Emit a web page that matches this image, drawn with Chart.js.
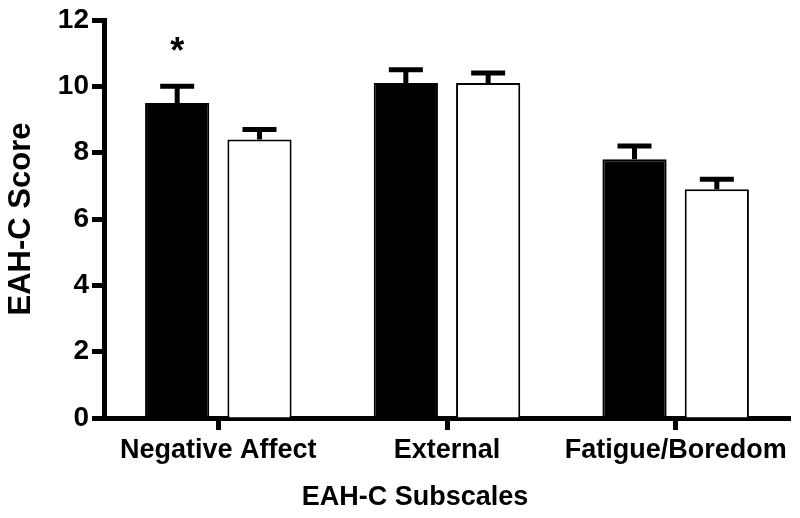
<!DOCTYPE html>
<html>
<head>
<meta charset="utf-8">
<script src="https://cdn.jsdelivr.net/npm/chart.js@4"></script>
<style>
  html, body { margin: 0; padding: 0; background: #fff; }
  #wrap { width: 800px; height: 518px; }
</style>
</head>
<body>
<div id="wrap"><canvas id="eahChart" width="800" height="518"></canvas></div>
<script>
// EAH-C subscale scores, two groups (mean + SE)
const categories = ['Negative Affect', 'External', 'Fatigue/Boredom'];
const groupAMeans = [9.5, 10.1, 7.8];
const groupAErr = [0.5, 0.4, 0.4];
const groupBMeans = [8.4, 10.1, 6.9];
const groupBErr = [0.3, 0.3, 0.3];
const sigMarks = ['*', '', ''];   // drawn above group A bars
const yTicks = [0, 2, 4, 6, 8, 10, 12];
const xTitle = 'EAH-C Subscales';

const FONT = "'Liberation Sans', Arial, Helvetica, sans-serif";
Chart.defaults.font.family = FONT;
Chart.defaults.font.weight = 'bold';
Chart.defaults.color = '#000';

// error bars (upper half only), significance star, x axis title
const errorBarPlugin = {
  id: 'errorBars',
  afterDatasetsDraw(chart) {
    const ctx = chart.ctx;
    const yScale = chart.scales.y;
    const errs = [groupAErr, groupBErr];
    ctx.save();
    ctx.strokeStyle = '#000';
    ctx.lineWidth = 5;
    chart.data.datasets.forEach((ds, di) => {
      const meta = chart.getDatasetMeta(di);
      meta.data.forEach((bar, i) => {
        const top = yScale.getPixelForValue(ds.data[i] + errs[di][i]);
        const half = 17;
        ctx.beginPath();
        ctx.moveTo(bar.x, bar.y);
        ctx.lineTo(bar.x, top);
        ctx.moveTo(bar.x - half, top);
        ctx.lineTo(bar.x + half, top);
        ctx.stroke();
        if (di === 0 && sigMarks[i]) {
          ctx.fillStyle = '#000';
          ctx.font = 'bold 36px ' + FONT;
          ctx.textAlign = 'center';
          ctx.textBaseline = 'alphabetic';
          ctx.fillText(sigMarks[i], bar.x, top - 23);
        }
      });
    });
    ctx.restore();
  },
  afterDraw(chart) {
    const ctx = chart.ctx;
    const area = chart.chartArea;
    ctx.save();
    ctx.fillStyle = '#000';
    ctx.font = 'bold 27px ' + FONT;
    ctx.textAlign = 'center';
    ctx.textBaseline = 'middle';
    ctx.fillText(xTitle, (area.left + area.right) / 2 - 32, chart.height - 20);
    ctx.restore();
  }
};

const ctx = document.getElementById('eahChart').getContext('2d');
new Chart(ctx, {
  type: 'bar',
  data: {
    labels: categories,
    datasets: [
      {
        label: 'Group A',
        data: groupAMeans,
        backgroundColor: '#000',
        borderColor: '#000',
        borderWidth: 2,
        categoryPercentage: 0.72,
        barPercentage: 0.78
      },
      {
        label: 'Group B',
        data: groupBMeans,
        backgroundColor: '#fff',
        borderColor: '#000',
        borderWidth: 2,
        categoryPercentage: 0.72,
        barPercentage: 0.78
      }
    ]
  },
  options: {
    responsive: false,
    animation: false,
    layout: { padding: { top: 20, right: 10, left: 0, bottom: 0 } },
    plugins: {
      legend: { display: false },
      tooltip: { enabled: false }
    },
    scales: {
      x: {
        offset: true,
        afterFit: (scale) => { scale.height = 100; },
        grid: {
          offset: false,
          drawOnChartArea: false,
          drawTicks: true,
          tickLength: 12,
          tickWidth: 5,
          tickColor: '#000'
        },
        border: { display: true, color: '#000', width: 5 },
        ticks: {
          color: '#000',
          padding: 4,
          maxRotation: 0,
          font: { size: 27, weight: 'bold' }
        },
        title: { display: false }
      },
      y: {
        min: 0,
        max: 12,
        afterFit: (scale) => { scale.width = 104; },
        afterBuildTicks: (scale) => { scale.ticks = yTicks.map(v => ({ value: v })); },
        grid: {
          drawOnChartArea: false,
          drawTicks: true,
          tickLength: 12,
          tickWidth: 5,
          tickColor: '#000'
        },
        border: { display: true, color: '#000', width: 5 },
        ticks: {
          color: '#000',
          padding: 3,
          font: { size: 28, weight: 'bold' }
        },
        title: {
          display: true,
          text: 'EAH-C Score',
          color: '#000',
          padding: { top: 3, bottom: 0 },
          font: { size: 31, weight: 'bold' }
        }
      }
    }
  },
  plugins: [errorBarPlugin]
});
</script>
</body>
</html>
